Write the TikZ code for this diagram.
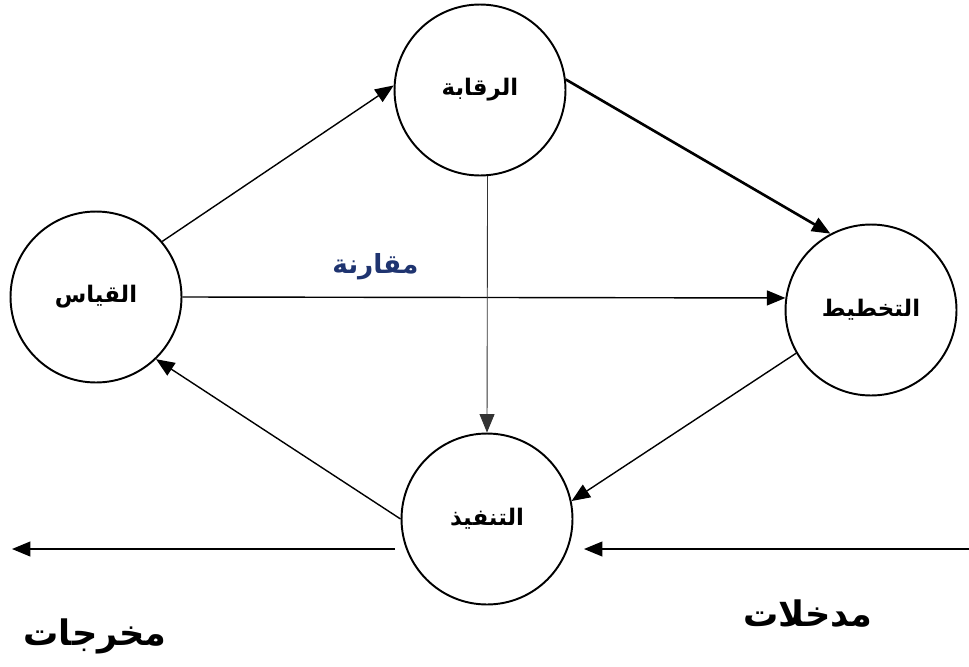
\documentclass[tikz,border=0pt]{standalone}
\usepackage{fontspec}
\newfontfamily\arabicfont[Script=Arabic]{DejaVu Sans}
\TeXXeTstate=1
\usetikzlibrary{arrows.meta}
\definecolor{navy}{RGB}{31,52,112}
\newcommand{\ar}[1]{\arabicfont\bfseries\beginR #1\endR}
\begin{document}
\begin{tikzpicture}[x=0.02cm,y=-0.02cm,
  stage/.style={circle,draw,line width=1.1pt,minimum size=3.42cm,inner sep=0pt,font=\fontsize{13}{15}\selectfont},
  flow/.style={-{Triangle[length=10.5pt,width=8.5pt]},line width=0.8pt},
  tag/.style={font=\fontsize{20}{24}\selectfont}]
\useasboundingbox (0,0) rectangle (969,666);
% the four stages
\node[stage] (raqaba) at (480,90) {\ar{الرقابة}};
\node[stage] (qiyas) at (96,297) {\ar{القياس}};
\node[stage] (takhtit) at (871,310) {\ar{التخطيط}};
\node[stage] (tanfidh) at (487,519) {\ar{التنفيذ}};
% cycle
\draw[flow] (qiyas.40) -- (raqaba.177);
\draw[flow,line width=1.5pt] (raqaba.7) -- (takhtit.118);
\draw[flow] (qiyas.east) -- (takhtit.172)
  node[pos=0.32,above=6pt,text=navy,font=\fontsize{15}{18}\selectfont] {\ar{مقارنة}};
\draw[flow,line width=0.5pt,black!80] (raqaba.-85) -- (tanfidh.north);
\draw[flow] (takhtit.210) -- (tanfidh.12);
\draw[flow] (tanfidh.west) -- (qiyas.-46);
% outputs and inputs
\coordinate (out1) at (395,549);
\coordinate (out2) at (12,549);
\coordinate (in1) at (969,549);
\coordinate (in2) at (584,549);
\draw[flow] (out1) -- (out2);
\draw[flow] (in1) -- (in2);
\node[tag] (makhrajat) at (95,636) {\ar{مخرجات}};
\node[tag] (mudkhalat) at (808,614) {\ar{مدخلات}};
\end{tikzpicture}
\end{document}
